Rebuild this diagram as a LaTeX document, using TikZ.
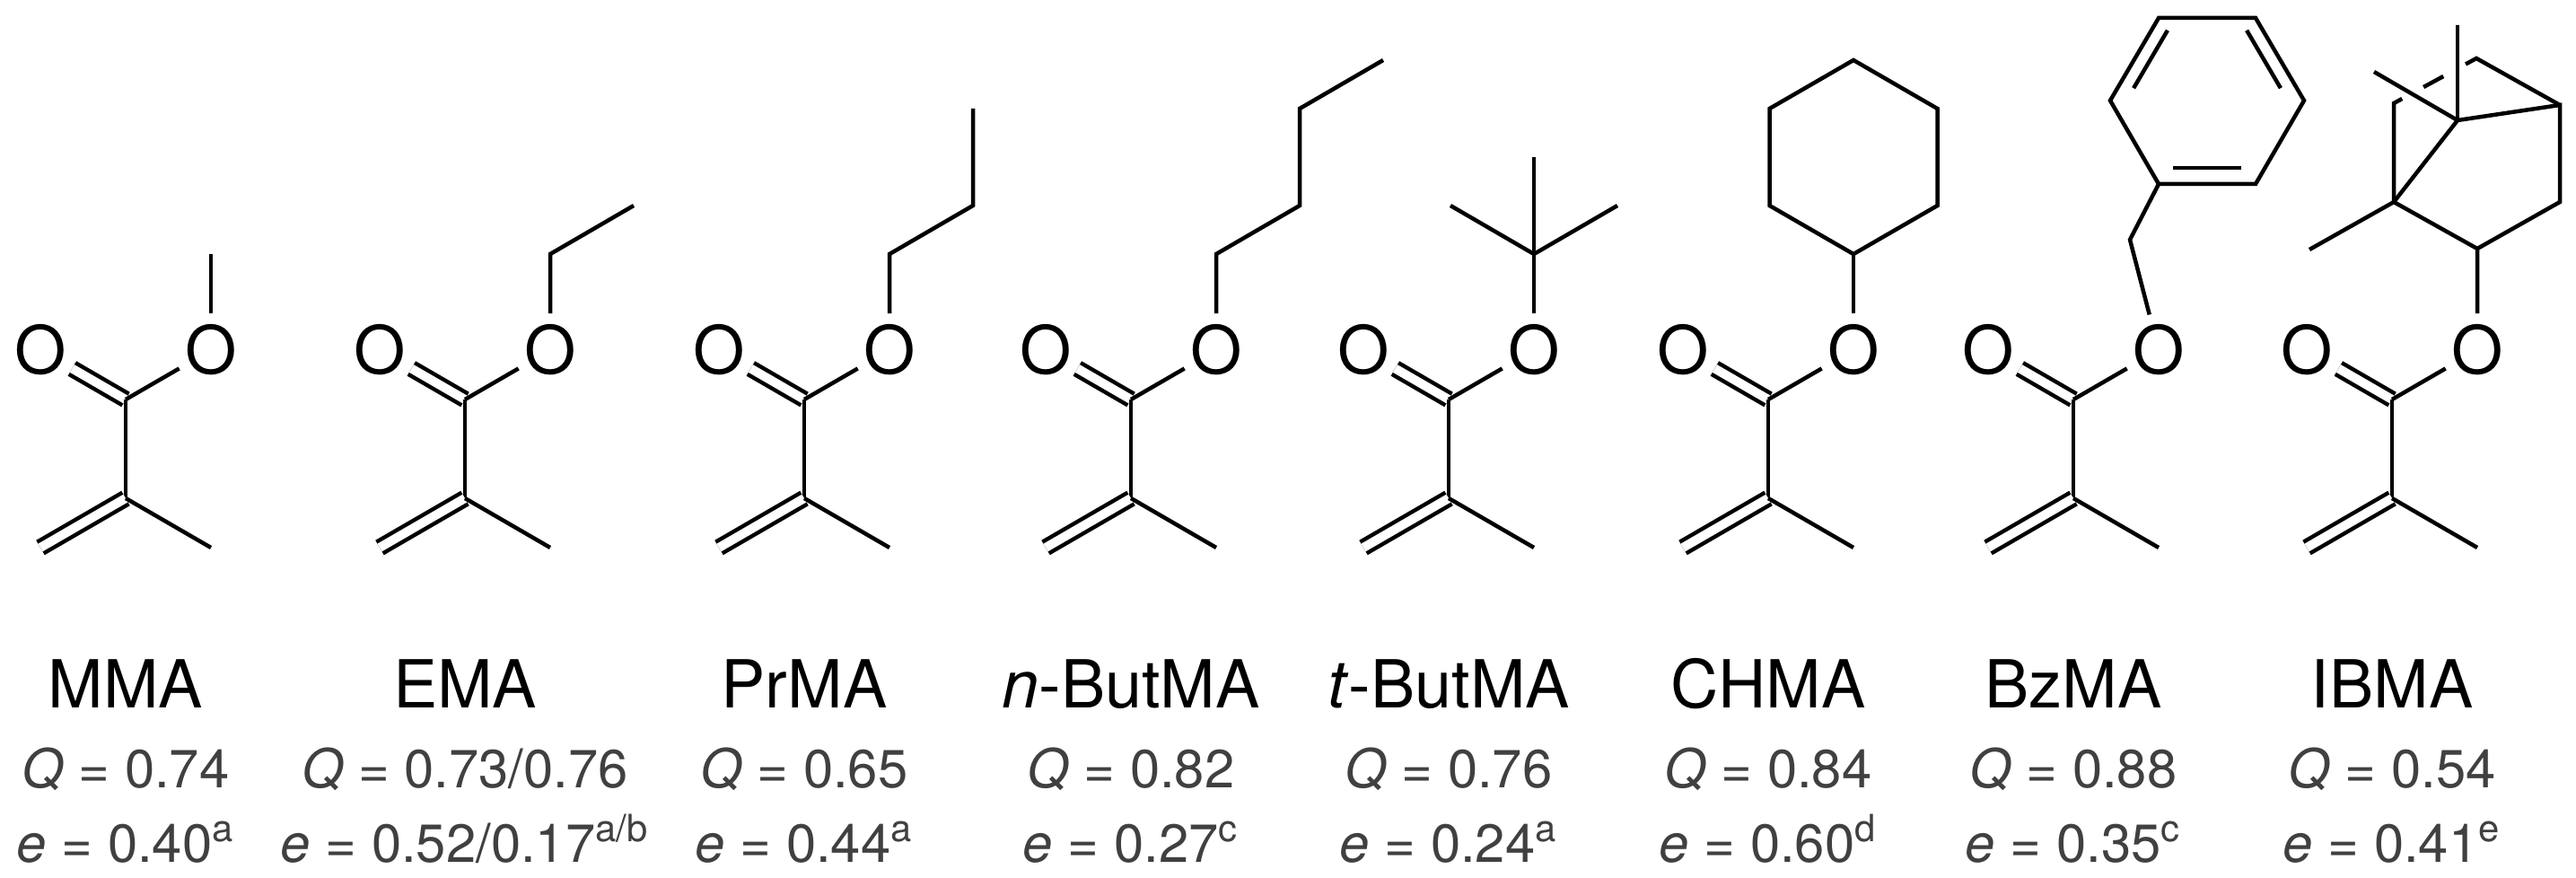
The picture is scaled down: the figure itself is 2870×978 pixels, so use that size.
\documentclass[tikz,border=0pt]{standalone}
\usepackage{fontspec}
\setmainfont{TeX Gyre Heros}
\usetikzlibrary{calc}
\definecolor{stat}{HTML}{404040}
\tikzset{
  bond/.style={line width=0.45mm, line cap=butt},
  dbl/.style={bond, double, double distance=1.0mm},
  atom/.style={circle, inner sep=0pt, minimum size=7.2mm, font=\fontsize{21}{24}\selectfont},
  nm/.style={anchor=base, font=\fontsize{21}{24}\selectfont},
  st/.style={anchor=base, text=stat, font=\fontsize{17}{20}\selectfont},
}
\newcommand\core[2]{%
  \coordinate (#2c) at (#1,445);
  \coordinate (#2a) at (#1,555);
  \coordinate (#2h) at ({#1-95},610);
  \coordinate (#2m) at ({#1+95},610);
  \node[atom] (#2ox) at ({#1-95},390) {O};
  \node[atom] (#2o) at ({#1+95},390) {O};
  \draw[dbl] (#2c) -- (#2ox);
  \draw[bond] (#2c) -- (#2o);
  \draw[bond] (#2c) -- (#2a);
  \draw[dbl] (#2a) -- (#2h);
  \draw[bond] (#2a) -- (#2m);
}
\begin{document}
\begin{tikzpicture}[x=0.1mm,y=-0.1mm]
\useasboundingbox (0,0) rectangle (2870,978);
% MMA
\core{140}{A}
\coordinate (A1) at (235,283);
\draw[bond] (Ao) -- (A1);
% EMA
\core{518}{B}
\coordinate (B1) at (613,283); \coordinate (B2) at (706,229);
\draw[bond] (Bo) -- (B1) -- (B2);
% PrMA
\core{896}{C}
\coordinate (C1) at (991,283); \coordinate (C2) at (1084,229); \coordinate (C3) at (1084,121);
\draw[bond] (Co) -- (C1) -- (C2) -- (C3);
% nBuMA
\core{1260}{D}
\coordinate (D1) at (1355,283); \coordinate (D2) at (1448,229); \coordinate (D3) at (1448,121); \coordinate (D4) at (1541,67);
\draw[bond,line join=miter] (Do) -- (D1) -- (D2) -- (D3) -- (D4);
% tBuMA
\core{1614}{E}
\coordinate (E1) at (1709,283); \coordinate (E2) at (1709,175); \coordinate (E3) at (1616,229); \coordinate (E4) at (1802,229);
\draw[bond] (Eo) -- (E1) -- (E2);
\draw[bond] (E3) -- (E1) -- (E4);
% CHMA
\core{1970}{F}
\coordinate (F1) at (2065,283); \coordinate (F2) at (2158.5,229); \coordinate (F3) at (2158.5,121);
\coordinate (F4) at (2065,67); \coordinate (F5) at (1971.5,121); \coordinate (F6) at (1971.5,229);
\draw[bond] (Fo) -- (F1);
\draw[bond,line join=miter] (F1) -- (F2) -- (F3) -- (F4) -- (F5) -- (F6) -- cycle;
% BzMA
\core{2310}{G}
\coordinate (G1) at (2373,267);
\coordinate (R1) at (2405,205); \coordinate (R2) at (2351,112); \coordinate (R3) at (2405,20);
\coordinate (R4) at (2513,20); \coordinate (R5) at (2567,112); \coordinate (R6) at (2513,205);
\draw[bond,line join=miter] (Go) -- (G1) -- (R1);
\draw[bond,line join=miter] (R1) -- (R2) -- (R3) -- (R4) -- (R5) -- (R6) -- cycle;
\draw[bond] ($(R2)!0.15!(R3)+(18,0)$) -- ($(R2)!0.85!(R3)+(18,0)$);
\draw[bond] ($(R1)!0.15!(R6)+(0,-18)$) -- ($(R1)!0.85!(R6)+(0,-18)$);
\draw[bond] ($(R4)!0.15!(R5)+(-18,0)$) -- ($(R4)!0.85!(R5)+(-18,0)$);
% IBMA
\core{2665}{H}
\coordinate (H2) at (2760,277); \coordinate (H3) at (2667,225); \coordinate (H4) at (2852,225);
\coordinate (H5) at (2852,117); \coordinate (H7) at (2738,134); \coordinate (H6) at (2667,115);
\coordinate (H8) at (2759,65); \coordinate (HmU) at (2738,28); \coordinate (HmL) at (2645,80);
\coordinate (HmC) at (2573,278);
\draw[bond] (Ho) -- (H2) -- (H3);
\draw[bond,line join=miter] (H2) -- (H4) -- (H5) -- (H7) -- (H3) -- (HmC);
\draw[bond,line join=miter] (H3) -- (H6) -- ($(H6)!0.1!(H8)$);
\draw[bond] ($(H6)!0.36!(H8)$) -- ($(H6)!0.6!(H8)$);
\draw[bond,line join=miter] ($(H6)!0.87!(H8)$) -- (H8) -- (H5);
\draw[bond] (H7) -- (HmL);
\draw[bond] (H7) -- (HmU);
% labels
\foreach \x/\n/\q/\e in {
  140/MMA/0.74/{0.40\textsuperscript{a}},
  518/EMA/{0.73/0.76}/{0.52/0.17\textsuperscript{a/b}},
  896/PrMA/0.65/{0.44\textsuperscript{a}},
  1260/\textit{n}-ButMA/0.82/{0.27\textsuperscript{c}},
  1614/\textit{t}-ButMA/0.76/{0.24\textsuperscript{a}},
  1970/CHMA/0.84/{0.60\textsuperscript{d}},
  2310/BzMA/0.88/{0.35\textsuperscript{c}},
  2665/IBMA/0.54/{0.41\textsuperscript{e}}}{
  \node[nm] (name\x) at (\x,788) {\n};
  \node[st] (q\x) at (\x,877) {\textit{Q} = \q};
  \node[st] (e\x) at (\x,960) {\textit{e} = \e};
}
\end{tikzpicture}
\end{document}
